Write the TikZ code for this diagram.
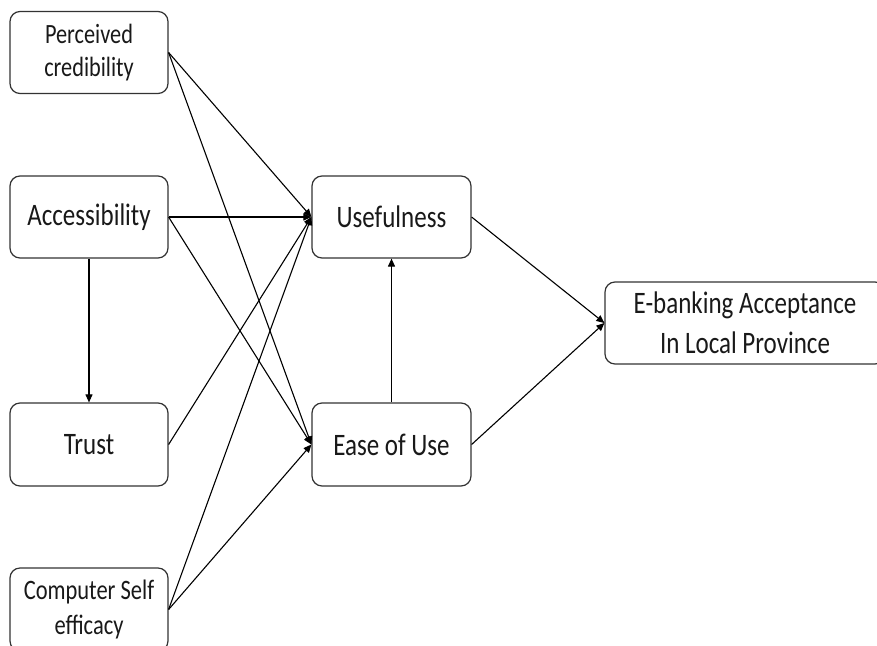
\documentclass[tikz,border=0pt]{standalone}
\usepackage{fontspec}
\usepackage{graphicx}
\setmainfont{Carlito}
\usetikzlibrary{arrows.meta}
\newcommand\vst[1]{\scalebox{1}[1.25]{#1}}
\begin{document}
\begin{tikzpicture}[x=1pt,y=-1pt,
  box/.style={draw=black!80, line width=1.2pt, rounded corners=10pt, fill=white,
    minimum width=158pt, minimum height=82pt, align=center, inner sep=0pt,
    text=black!90, font=\fontsize{25}{40}\selectfont},
  smallbox/.style={box, font=\fontsize{22.3}{33}\selectfont},
  midbox/.style={box, font=\fontsize{22.5}{35}\selectfont},
  conn/.style={line width=1.1pt, -{Triangle[length=8pt,width=7pt]}}]
\useasboundingbox (0,0) rectangle (877,645);
\clip (0,0) rectangle (877,645);
\fill[white] (0,0) rectangle (877,645);
\node[smallbox] (pc) at (89,52.5) {\vst{Perceived}\\\vst{credibility}};
\node[box] (acc) at (89,217) {\vst{Accessibility}};
\node[box, minimum height=83pt] (trust) at (89,444.5) {\vst{Trust}};
\node[midbox, minimum height=83pt] (cse) at (89,609.5) {\vst{Computer Self}\\\vst{efficacy}};
\node[box, minimum width=159pt] (use) at (391.5,217) {\vst{Usefulness}};
\node[box, minimum width=159pt, minimum height=83pt] (ease) at (391.5,444.5) {\vst{Ease of Use}};
\node[box, minimum width=280pt] (eb) at (745,323) {\vst{E-banking Acceptance}\\\vst{In Local Province}};
\draw[conn] (pc.east) -- (use.west);
\draw[conn] (pc.east) -- (ease.west);
\draw[conn] (acc.east) -- (use.west);
\draw[conn] (acc.east) -- (ease.west);
\draw[conn] (acc.south) -- (trust.north);
\draw[conn] (trust.east) -- (use.west);
\draw[conn] (cse.east) -- (use.west);
\draw[conn] (cse.east) -- (ease.west);
\draw[conn] (ease.north) -- (use.south);
\draw[conn] (use.east) -- (eb.west);
\draw[conn] (ease.east) -- (eb.west);
\end{tikzpicture}
\end{document}
